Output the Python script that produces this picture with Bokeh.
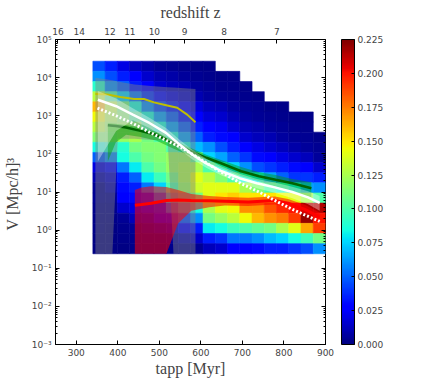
import numpy as np
from bokeh.plotting import figure
from bokeh.models import (Range1d, LinearAxis, LogAxis, FixedTicker, ColorBar, LinearColorMapper,
                          PrintfTickFormatter, CustomJSTickFormatter, ColumnDataSource)
from bokeh.transform import linear_cmap
from bokeh.embed import file_html
from bokeh.resources import INLINE

# ---------------- data ----------------
# histogram bins: tapp (Myr) and V (log10 edges)
tapp_edges = np.linspace(340, 900, 20)
logv_edges_top_down = np.linspace(4.43, -0.62, 20)

# density columns (tapp bins, left -> right); each list goes from highest V bin to lowest; None = empty
c00 = [0.045, 0.06, 0.09, 0.13, 0.16, 0.145, 0.13, 0.115, 0.085, 0.05, 0.02, 0.01, 0.005, 0.005, 0.003, 0.002, 0.002, 0.001, 0.001]
c01 = [0.035, 0.045, 0.06, 0.10, 0.13, 0.125, 0.12, 0.115, 0.09, 0.06, 0.03, 0.015, 0.01, 0.005, 0.003, 0.002, 0.001, 0.001, 0.001]
c02 = [0.02, 0.035, 0.05, 0.075, 0.11, 0.115, 0.12, 0.12, 0.09, 0.085, 0.055, 0.035, 0.03, 0.025, 0.015, 0.005, 0.003, 0.002, 0.001]
c03 = [0.012, 0.025, 0.035, 0.055, 0.085, 0.10, 0.115, 0.125, 0.11, 0.10, 0.08, 0.05, 0.035, 0.03, 0.02, 0.012, 0.005, 0.003, 0.002]
c04 = [0.008, 0.015, 0.025, 0.04, 0.06, 0.085, 0.10, 0.11, 0.115, 0.11, 0.10, 0.08, 0.055, 0.035, 0.03, 0.015, 0.008, 0.004, 0.002]
c05 = [0.005, 0.01, 0.015, 0.03, 0.045, 0.065, 0.085, 0.10, 0.115, 0.115, 0.11, 0.095, 0.075, 0.055, 0.035, 0.025, 0.012, 0.005, 0.002]
c06 = [0.004, 0.008, 0.012, 0.02, 0.035, 0.05, 0.065, 0.085, 0.10, 0.12, 0.12, 0.11, 0.10, 0.08, 0.055, 0.03, 0.015, 0.006, 0.003]
c07 = [0.003, 0.006, 0.01, 0.015, 0.025, 0.035, 0.05, 0.065, 0.085, 0.12, 0.125, 0.125, 0.12, 0.095, 0.075, 0.045, 0.025, 0.01, 0.004]
c08 = [0.002, 0.004, 0.007, 0.01, 0.018, 0.025, 0.035, 0.05, 0.07, 0.105, 0.125, 0.14, 0.135, 0.11, 0.085, 0.06, 0.035, 0.015, 0.005]
c09 = [0.002, 0.003, 0.005, 0.007, 0.012, 0.018, 0.027, 0.035, 0.06, 0.075, 0.10, 0.13, 0.14, 0.14, 0.125, 0.11, 0.08, 0.035, 0.012]
c10 = [None, 0.002, 0.003, 0.005, 0.01, 0.015, 0.022, 0.03, 0.045, 0.065, 0.085, 0.115, 0.14, 0.15, 0.14, 0.12, 0.085, 0.04, 0.015]
c11 = [None, 0.002, 0.003, 0.004, 0.007, 0.01, 0.015, 0.025, 0.035, 0.05, 0.075, 0.10, 0.14, 0.155, 0.145, 0.13, 0.095, 0.055, 0.025]
c12 = [None, None, 0.002, 0.003, 0.005, 0.007, 0.01, 0.015, 0.025, 0.04, 0.06, 0.085, 0.125, 0.15, 0.17, 0.145, 0.10, 0.055, 0.028]
c13 = [None, None, None, 0.002, 0.004, 0.005, 0.008, 0.012, 0.02, 0.03, 0.045, 0.08, 0.115, 0.15, 0.17, 0.16, 0.105, 0.06, 0.03]
c14 = [None, None, None, None, 0.002, 0.004, 0.006, 0.01, 0.015, 0.025, 0.04, 0.065, 0.10, 0.15, 0.185, 0.17, 0.11, 0.07, 0.035]
c15 = [None, None, None, None, 0.002, 0.003, 0.005, 0.007, 0.012, 0.02, 0.035, 0.05, 0.09, 0.145, 0.195, 0.175, 0.125, 0.075, 0.035]
c16 = [None, None, None, None, None, 0.002, 0.003, 0.005, 0.008, 0.015, 0.03, 0.04, 0.08, 0.14, 0.20, 0.19, 0.14, 0.085, 0.04]
c17 = [None, None, None, None, None, 0.002, 0.003, 0.004, 0.006, 0.012, 0.025, 0.04, 0.065, 0.125, 0.215, 0.22, 0.165, 0.095, 0.045]
c18 = [None, None, None, None, None, None, None, 0.002, 0.004, 0.006, 0.015, 0.035, 0.06, 0.10, 0.215, 0.20, 0.19, 0.11, 0.06]
density_columns = [c00, c01, c02, c03, c04, c05, c06, c07, c08, c09, c10, c11, c12, c13, c14, c15, c16, c17, c18]

# overlay curves (tapp in Myr, V in [Mpc/h]^3)
gray_t = [346, 375, 387, 400, 440, 480, 520, 534, 560, 587]
gray_hi = [10000, 8900, 8500, 7900, 6600, 6000, 5600, 5500, 5250, 5000]
gray_lo = [0.24, 0.24, 0.24, 250, 250, 230, 230, 0.24, 0.24, 0.24]

yellow_t = [346, 375, 406, 439, 463, 487, 519, 543, 567, 587]
yellow_v = [3715, 3630, 3090, 2750, 2750, 2240, 1860, 1620, 1070, 676]

green_t = [376, 395, 420, 452, 492, 532, 570, 613, 650, 697, 740, 780, 820, 866]
green_v = [562, 537, 490, 407, 316, 200, 126, 79, 56, 35, 26, 21, 17, 12.6]
green_hi = [631, 617, 575, 490, 380, 240, 151, 95, 68, 45, 33, 28, 22, 18]
green_lo = [63, 200, 316, 282, 224, 141, 93, 60, 42, 26, 19, 14, 10, 7.1]

white_t = [352, 396, 436, 476, 516, 548, 580, 613, 650, 693, 735, 778, 820, 858, 886]
white_v = [2630, 1780, 1070, 646, 355, 178, 95, 56, 35, 23, 17, 13.2, 10, 7.2, 5.2]
white_hi = [4470, 2820, 1580, 890, 480, 240, 126, 74, 47, 30, 22, 17.8, 13.8, 10.5, 7.9]
white_lo = [63, 400, 760, 480, 263, 132, 71, 43, 27, 17.4, 12.6, 9.5, 6.9, 4.8, 3.2]

dot_t = [351, 396, 436, 476, 516, 556, 600, 640, 697, 740, 778, 818, 850, 886]
dot_v = [1585, 1000, 631, 372, 229, 141, 71, 38, 16.6, 10, 6.0, 3.6, 2.5, 1.7]

red_t = [441, 457, 481, 517, 545, 577, 620, 658, 714, 778, 810, 850, 886]
red_v = [4.5, 4.7, 5.1, 6.0, 6.2, 6.0, 5.9, 5.75, 5.5, 6.0, 5.1, 3.5, 2.2]
red_hi = [11.2, 13.2, 14.1, 13.5, 11.2, 8.9, 7.9, 7.4, 7.1, 7.6, 6.6, 4.6, 2.9]
red_lo = [0.24, 0.24, 0.24, 0.24, 1.5, 3.2, 4.0, 4.4, 4.3, 4.7, 4.0, 2.6, 1.66]

# ticks
x_ticks = [300, 400, 500, 600, 700, 800, 900]
z_labels = [16, 14, 12, 11, 10, 9, 8, 7]
z_tapp = [256, 307, 381, 429, 488, 561, 656, 783]
cb_ticks = [0.0, 0.025, 0.05, 0.075, 0.1, 0.125, 0.15, 0.175, 0.2, 0.225]
y_ticks = [1e-3, 1e-2, 1e-1, 1e0, 1e1, 1e2, 1e3, 1e4, 1e5]

# ---------------- jet palette ----------------
def jet_palette(n=256):
    x = np.linspace(0, 1, n)
    r = np.interp(x, [0, 0.35, 0.66, 0.89, 1], [0, 0, 1, 1, 0.5])
    g = np.interp(x, [0, 0.125, 0.375, 0.64, 0.91, 1], [0, 0, 1, 1, 0, 0])
    b = np.interp(x, [0, 0.11, 0.34, 0.65, 1], [0.5, 1, 1, 0, 0])
    return ["#%02x%02x%02x" % (int(round(rr * 255)), int(round(gg * 255)), int(round(bb * 255)))
            for rr, gg, bb in zip(r, g, b)]

jet = jet_palette()

# ---------------- heatmap source ----------------
L, R, T, B, VAL = [], [], [], [], []
for i, col in enumerate(density_columns):
    for j, v in enumerate(col):
        if v is None:
            continue
        L.append(tapp_edges[i]); R.append(tapp_edges[i + 1])
        T.append(10 ** logv_edges_top_down[j]); B.append(10 ** logv_edges_top_down[j + 1])
        VAL.append(v)
src = ColumnDataSource(dict(left=L, right=R, top=T, bottom=B, val=VAL))

# ---------------- figure ----------------
p = figure(frame_width=270, frame_height=305,
           x_range=Range1d(250, 900), y_range=Range1d(1e-3, 1e5), y_axis_type="log",
           output_backend="svg", toolbar_location=None,
           x_axis_label="tapp [Myr]", y_axis_label="V  [Mpc/h]\u00b3")
p.min_border_left = 0
p.min_border_top = 0
p.min_border_bottom = 0
p.min_border_right = 0
p.xgrid.visible = False
p.ygrid.visible = False
p.outline_line_color = "black"
p.outline_line_width = 1
p.background_fill_color = "white"
p.border_fill_color = "white"

cmap = linear_cmap("val", palette=jet, low=0, high=0.225)
p.quad(left="left", right="right", top="top", bottom="bottom", source=src,
       fill_color=cmap, line_color=cmap, line_width=0.6)

# overlays
p.varea(x=gray_t, y1=gray_lo, y2=gray_hi, fill_color="#808080", fill_alpha=0.45)
p.line(yellow_t, yellow_v, line_color="#bfbf00", line_width=2)
p.varea(x=red_t, y1=red_lo, y2=red_hi, fill_color="#ff0000", fill_alpha=0.55)
p.line(red_t, red_v, line_color="#ff0000", line_width=3)
p.varea(x=green_t, y1=green_lo, y2=green_hi, fill_color="#00a000", fill_alpha=0.45)
p.line(green_t, green_v, line_color="#006400", line_width=2.5)
p.varea(x=white_t, y1=white_lo, y2=white_hi, fill_color="white", fill_alpha=0.35)
p.line(white_t, white_v, line_color="white", line_width=2.5)
p.line(dot_t, dot_v, line_color="white", line_width=3, line_dash="2 2")

# axes styling
sans = "DejaVu Sans"
serif = "Liberation Serif"

xa = p.below[0]
xa.ticker = FixedTicker(ticks=x_ticks)
xa.major_tick_in = 4
xa.major_tick_out = 0
xa.minor_tick_line_color = None
xa.major_label_text_font = sans
xa.major_label_text_font_size = "9px"
xa.major_label_standoff = 4
xa.axis_label_text_font = serif
xa.axis_label_text_font_size = "16px"
xa.axis_label_text_font_style = "normal"
xa.axis_label_standoff = 1

minor_y = [m * 10.0 ** e for e in range(-3, 5) for m in range(2, 10)]
sup_code = """
const e = Math.round(Math.log10(tick));
const sup = {'-':'\u207b','0':'\u2070','1':'\u00b9','2':'\u00b2','3':'\u00b3','4':'\u2074','5':'\u2075','6':'\u2076','7':'\u2077','8':'\u2078','9':'\u2079'};
return '10' + String(e).split('').map(c => sup[c]).join('');
"""
ya = p.left[0]
ya.ticker = FixedTicker(ticks=y_ticks, minor_ticks=minor_y)
ya.formatter = CustomJSTickFormatter(code=sup_code)
ya.major_tick_in = 4
ya.major_tick_out = 0
ya.minor_tick_in = 2
ya.minor_tick_out = 0
ya.major_label_text_font = sans
ya.major_label_text_font_size = "9px"
ya.major_label_standoff = 4
ya.axis_label_text_font = serif
ya.axis_label_text_font_size = "16px"
ya.axis_label_text_font_style = "normal"
ya.axis_label_standoff = 8

top = LinearAxis(ticker=FixedTicker(ticks=z_tapp),
                 major_label_overrides={t: str(z) for t, z in zip(z_tapp, z_labels)},
                 axis_label="redshift z")
top.major_tick_in = 4
top.major_tick_out = 0
top.minor_tick_line_color = None
top.major_label_text_font = sans
top.major_label_text_font_size = "9px"
top.major_label_standoff = 5
top.axis_label_text_font = serif
top.axis_label_text_font_size = "16px"
top.axis_label_text_font_style = "normal"
top.axis_label_standoff = 4
p.add_layout(top, "above")

right = LogAxis(ticker=FixedTicker(ticks=y_ticks, minor_ticks=minor_y),
                formatter=CustomJSTickFormatter(code="return '';"))
right.major_label_text_font_size = "9px"
right.major_label_standoff = 0
right.major_tick_in = 4
right.major_tick_out = 0
right.minor_tick_in = 2
right.minor_tick_out = 0
right.axis_line_color = None
p.add_layout(right, "right")

mapper = LinearColorMapper(palette=jet, low=0, high=0.225)
cb = ColorBar(color_mapper=mapper, ticker=FixedTicker(ticks=cb_ticks),
              formatter=PrintfTickFormatter(format="%.3f"),
              width=13, height=305, padding=0, margin=0, location=(16, 0),
              label_standoff=3, major_label_text_font=sans, major_label_text_font_size="9px",
              major_tick_line_color="black", major_tick_in=3, major_tick_out=0,
              minor_tick_line_color=None,
              bar_line_color="black", border_line_color=None, background_fill_color=None)
p.add_layout(cb, "right")

open("out.html", "w").write(file_html(p, INLINE))
